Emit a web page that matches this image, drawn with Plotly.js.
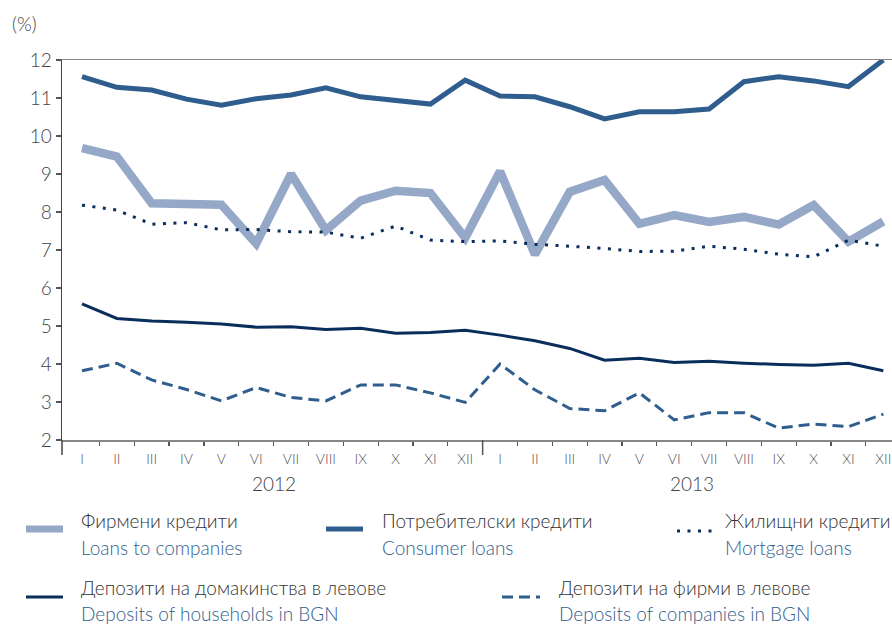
<!DOCTYPE html>
<html><head><meta charset="utf-8">
<script src="https://cdn.plot.ly/plotly-3.0.1.min.js"></script>
<style>html,body{margin:0;padding:0;background:#fff}</style>
</head><body>
<div id="chart" style="width:892px;height:624px"></div>
<script>
// ---- data ----
const months = ["I","II","III","IV","V","VI","VII","VIII","IX","X","XI","XII",
                "I","II","III","IV","V","VI","VII","VIII","IX","X","XI","XII"];
const years = ["2012", "2013"];
const loansCompanies = [9.68, 9.46, 8.23, 8.21, 8.19, 7.17, 9.00, 7.52, 8.30, 8.56, 8.50, 7.32,
                        9.07, 6.88, 8.53, 8.84, 7.69, 7.92, 7.74, 7.87, 7.67, 8.18, 7.22, 7.75];
const consumerLoans  = [11.56, 11.28, 11.21, 10.97, 10.81, 10.98, 11.08, 11.27, 11.03, 10.95, 10.84, 11.47,
                        11.05, 11.03, 10.77, 10.45, 10.64, 10.64, 10.71, 11.43, 11.56, 11.45, 11.30, 12.00];
const mortgageLoans  = [8.18, 8.05, 7.68, 7.72, 7.53, 7.54, 7.48, 7.47, 7.31, 7.63, 7.26, 7.22,
                        7.24, 7.15, 7.10, 7.04, 6.96, 6.97, 7.10, 7.02, 6.89, 6.82, 7.26, 7.10];
const depHouseholds  = [5.58, 5.20, 5.13, 5.10, 5.05, 4.97, 4.98, 4.91, 4.94, 4.81, 4.83, 4.89,
                        4.76, 4.61, 4.41, 4.10, 4.15, 4.04, 4.07, 4.02, 3.99, 3.97, 4.02, 3.82];
const depCompanies   = [3.82, 4.02, 3.58, 3.33, 3.03, 3.38, 3.12, 3.03, 3.45, 3.45, 3.24, 2.99,
                        4.00, 3.32, 2.83, 2.77, 3.24, 2.53, 2.72, 2.72, 2.31, 2.42, 2.35, 2.68];
const namesBg = ["Фирмени кредити", "Потребителски кредити", "Жилищни кредити",
                 "Депозити на домакинства в левове", "Депозити на фирми в левове"];
const namesEn = ["Loans to companies", "Consumer loans", "Mortgage loans",
                 "Deposits of households in BGN", "Deposits of companies in BGN"];
const yTicks = [2,3,4,5,6,7,8,9,10,11,12];

// ---- styles ----
const cLight = "#95a8c7", cMid = "#2f5e8e", cNavy = "#0a2e5c";
const series = [loansCompanies, consumerLoans, mortgageLoans, depHouseholds, depCompanies];
const colors = [cLight, cMid, cNavy, cNavy, cMid];
const widths = [8.5, 5, 3, 3, 3];
const dashes = ["solid", "solid", "3px,7.5px", "solid", "11px,6px"];

const idx = months.map((m, i) => i);
const halves = [];
for (let i = 0; i < months.length - 1; i++) halves.push(i + 0.5);

const traces = series.map((s, k) => ({
  type: "scatter", mode: "lines", x: idx, y: s, name: namesEn[k],
  line: {color: colors[k], width: widths[k], dash: dashes[k]},
  hoverinfo: "skip", showlegend: false
}));

// pixel helpers for the hand-built legend (plot area: l=62, w=830, t=60, h=380)
const L = 62, W = 830, T = 60, H = 380;
const px = x => (x - L) / W;
const py = y => (T + H - y) / H;

const font = "Lato, 'Open Sans', 'DejaVu Sans', sans-serif";
const FW = 300;
const shapes = [];
const annotations = [];

// year separator tick and left axis extension
shapes.push({type: "line", xref: "x", yref: "paper", x0: 11.5, x1: 11.5, y0: 0, y1: -15 / H,
             line: {color: "#555", width: 1.5}});
shapes.push({type: "line", xref: "paper", yref: "paper", x0: 0, x1: 0, y0: 0, y1: -15 / H,
             line: {color: "#444", width: 1.5}});

// year labels
years.forEach((yr, k) => annotations.push({
  xref: "x", yref: "paper", x: 5.5 + 12 * k, y: py(483), text: yr, showarrow: false,
  xanchor: "center", yanchor: "middle", font: {family: font, size: 19, color: "#444", weight: FW}
}));

// "(%)"
annotations.push({xref: "paper", yref: "paper", x: px(10), y: py(24), text: "(%)", showarrow: false,
  xanchor: "left", yanchor: "middle", font: {family: font, size: 19, color: "#444", weight: FW}});

// legend
const legSample = [[26, 63, 529], [326, 363, 529], [677, 712, 531], [26, 63, 597], [502, 540, 597]];
const legSampleW = [7, 5, 3, 3, 3];
const legText = [[79, 520, 547], [380, 520, 547], [723, 520, 547], [79, 587, 613], [557, 587, 613]];
legSample.forEach((s, k) => {
  shapes.push({type: "line", xref: "paper", yref: "paper", x0: px(s[0]), x1: px(s[1]), y0: py(s[2]), y1: py(s[2]),
               line: {color: colors[k], width: legSampleW[k], dash: dashes[k]}});
  annotations.push({xref: "paper", yref: "paper", x: px(legText[k][0]), y: py(legText[k][1]), text: namesBg[k],
    showarrow: false, xanchor: "left", yanchor: "middle", font: {family: font, size: 19, color: "#333", weight: FW}});
  annotations.push({xref: "paper", yref: "paper", x: px(legText[k][0]), y: py(legText[k][2]), text: namesEn[k],
    showarrow: false, xanchor: "left", yanchor: "middle", font: {family: font, size: 19, color: cMid, weight: FW}});
});

const layout = {
  width: 892, height: 624,
  margin: {l: L, r: 0, t: T, b: 624 - T - H, pad: 0},
  paper_bgcolor: "#fff", plot_bgcolor: "#fff",
  showlegend: false,
  font: {family: font, color: "#444", weight: FW},
  xaxis: {
    range: [-0.574, 23.25], fixedrange: true,
    tickmode: "array", tickvals: idx, ticktext: months,
    ticks: "outside", ticklen: 6, tickcolor: "rgba(0,0,0,0)",
    tickfont: {family: font, size: 14, color: "#555", weight: FW},
    showgrid: false, zeroline: false,
    showline: true, linecolor: "#888", linewidth: 1.5, mirror: true,
    minor: {tickmode: "array", tickvals: halves, ticks: "outside", ticklen: 4, tickcolor: "#555", tickwidth: 1.2, showgrid: false}
  },
  yaxis: {
    range: [2, 12], fixedrange: true,
    tickmode: "array", tickvals: yTicks,
    ticks: "outside", ticklen: 5, tickcolor: "#555", tickwidth: 1.2,
    tickfont: {family: font, size: 19, color: "#444", weight: FW},
    showgrid: false, zeroline: false,
    showline: true, linecolor: "#444", linewidth: 1.5
  },
  shapes: shapes,
  annotations: annotations
};

Plotly.newPlot("chart", traces, layout, {displayModeBar: false, staticPlot: true});
</script>
</body></html>
